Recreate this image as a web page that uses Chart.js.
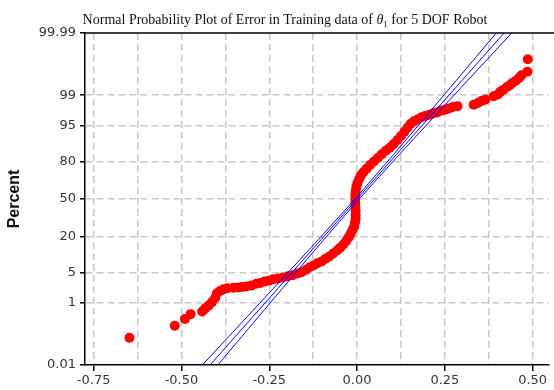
<!DOCTYPE html>
<html>
<head>
<meta charset="utf-8">
<script src="https://cdn.jsdelivr.net/npm/chart.js@4/dist/chart.umd.min.js"></script>
<style>
  html, body { margin: 0; padding: 0; background: #ffffff; }
  #wrap { width: 554px; height: 390px; }
</style>
</head>
<body>
<div id="wrap"><canvas id="chart" width="554" height="390"></canvas></div>
<script>
// Sorted training errors for theta_1 (horizontal axis)
const errorValues = [
  -0.648, -0.519, -0.490, -0.474, -0.441, -0.432, -0.423, -0.413, -0.404, -0.399,
  -0.390, -0.380, -0.369, -0.352, -0.338, -0.327, -0.315, -0.301, -0.287, -0.276,
  -0.263, -0.251, -0.239, -0.225, -0.211, -0.197, -0.183, -0.169, -0.158, -0.146,
  -0.135, -0.124, -0.113, -0.101, -0.090, -0.079, -0.068, -0.056, -0.048, -0.039,
  -0.031, -0.024, -0.018, -0.013, -0.008, -0.006, -0.004, -0.004, -0.004, -0.005,
  -0.005, -0.005, -0.005, -0.004, -0.002, 0.001, 0.006, 0.011, 0.018, 0.027,
  0.037, 0.048, 0.059, 0.070, 0.082, 0.093, 0.104, 0.115, 0.125, 0.135,
  0.144, 0.152, 0.162, 0.172, 0.183, 0.194, 0.206, 0.217, 0.228, 0.239,
  0.251, 0.262, 0.273, 0.286, 0.332, 0.344, 0.355, 0.366, 0.389, 0.401,
  0.408, 0.417, 0.427, 0.435, 0.442, 0.452, 0.461, 0.468, 0.485, 0.486
];
// Standard normal quantile of each error's plotting position (vertical axis)
const normalQuantiles = [
  -3.11, -2.84, -2.69, -2.58, -2.52, -2.45, -2.39, -2.31, -2.22, -2.11,
  -2.06, -2.02, -2.00, -1.99, -1.98, -1.97, -1.96, -1.94, -1.90, -1.88,
  -1.85, -1.83, -1.80, -1.78, -1.76, -1.73, -1.71, -1.67, -1.64, -1.59,
  -1.53, -1.49, -1.44, -1.40, -1.34, -1.29, -1.22, -1.15, -1.09, -1.02,
  -0.94, -0.86, -0.78, -0.69, -0.62, -0.53, -0.45, -0.36, -0.27, -0.18,
  -0.09, 0.00, 0.09, 0.18, 0.27, 0.36, 0.45, 0.53, 0.60, 0.68,
  0.76, 0.84, 0.92, 1.00, 1.08, 1.15, 1.23, 1.32, 1.41, 1.51,
  1.60, 1.68, 1.74, 1.78, 1.83, 1.86, 1.89, 1.92, 1.94, 1.98,
  2.00, 2.03, 2.06, 2.08, 2.11, 2.15, 2.20, 2.23, 2.30, 2.34,
  2.40, 2.45, 2.51, 2.55, 2.60, 2.65, 2.71, 2.77, 2.85, 3.13
];

// Fitted normal line with its lower and upper bounds
const bandQuantiles = [-3.9, -3.0, -2.0, -1.0, 0.0, 1.0, 2.0, 3.0, 3.9];
const fitValues   = [-0.4388, -0.3375, -0.2250, -0.1125, 0.0000, 0.1125, 0.2250, 0.3375, 0.4388];
const lowerValues = [-0.4618, -0.3556, -0.2379, -0.1208, -0.0060, 0.1042, 0.2121, 0.3194, 0.4158];
const upperValues = [-0.4158, -0.3194, -0.2121, -0.1042, 0.0060, 0.1208, 0.2379, 0.3556, 0.4618];

// Probability axis ticks (percent) and error axis ticks
const percentTicks = [0.01, 1, 5, 20, 50, 80, 95, 99, 99.99];
const percentLabels = ['0.01', '1', '5', '20', '50', '80', '95', '99', '99.99'];
const errorTicks = [-0.75, -0.625, -0.5, -0.375, -0.25, -0.125, 0, 0.125, 0.25, 0.375, 0.5];

// Inverse standard normal CDF (Acklam), used to place the probability axis
function probit(p) {
  const a = [-3.969683028665376e+01, 2.209460984245205e+02, -2.759285104469687e+02, 1.383577518672690e+02, -3.066479806614716e+01, 2.506628277459239e+00];
  const b = [-5.447609879822406e+01, 1.615858368580409e+02, -1.556989798598866e+02, 6.680131188771972e+01, -1.328068155288572e+01];
  const c = [-7.784894002430293e-03, -3.223964580411365e-01, -2.400758277161838e+00, -2.549732539343734e+00, 4.374664141464968e+00, 2.938163982698783e+00];
  const d = [7.784695709041462e-03, 3.224671290700398e-01, 2.445134137142996e+00, 3.754408661907416e+00];
  const pl = 0.02425;
  if (p < pl) {
    const q = Math.sqrt(-2 * Math.log(p));
    return (((((c[0]*q + c[1])*q + c[2])*q + c[3])*q + c[4])*q + c[5]) / ((((d[0]*q + d[1])*q + d[2])*q + d[3])*q + 1);
  }
  if (p > 1 - pl) {
    const q = Math.sqrt(-2 * Math.log(1 - p));
    return -(((((c[0]*q + c[1])*q + c[2])*q + c[3])*q + c[4])*q + c[5]) / ((((d[0]*q + d[1])*q + d[2])*q + d[3])*q + 1);
  }
  const q = p - 0.5, r = q * q;
  return (((((a[0]*r + a[1])*r + a[2])*r + a[3])*r + a[4])*r + a[5])*q / (((((b[0]*r + b[1])*r + b[2])*r + b[3])*r + b[4])*r + 1);
}

const tickZ = percentTicks.map(p => probit(p / 100));
const zMin = tickZ[0];
const zMax = tickZ[tickZ.length - 1];

const TICK_FONT = { family: '"DejaVu Sans", Verdana, sans-serif', size: 13 };
const TICK_COLOR = '#333340';
const GRID_COLOR = '#c8c8c8';
const GRID_DASH = [7, 4];

function pairs(xs, ys) { return xs.map((x, i) => ({ x: x, y: ys[i] })); }

function bandLine(values) {
  return {
    type: 'line',
    data: pairs(values, bandQuantiles),
    borderColor: '#0000ff',
    borderWidth: 1,
    pointRadius: 0,
    tension: 0.2,
    fill: false,
    order: 0
  };
}

// Title, axis caption and top frame line
const decorations = {
  id: 'decorations',
  afterDraw(chart) {
    const ctx = chart.ctx;
    const area = chart.chartArea;
    ctx.save();
    // top frame
    ctx.strokeStyle = '#000000';
    ctx.lineWidth = 1.5;
    ctx.beginPath();
    ctx.moveTo(area.left, area.top);
    ctx.lineTo(chart.width, area.top);
    ctx.stroke();

    // title with italic theta and subscript
    const serif = '"Liberation Serif", "Times New Roman", serif';
    const parts = [
      { t: 'Normal Probability Plot of Error in Training data of ', f: '14px ' + serif, dy: 0 },
      { t: '\u03B8', f: 'italic 14px ' + serif, dy: 0 },
      { t: '1', f: '9px ' + serif, dy: 3 },
      { t: ' for 5 DOF Robot', f: '14px ' + serif, dy: 0 }
    ];
    let total = 0;
    parts.forEach(p => { ctx.font = p.f; p.w = ctx.measureText(p.t).width; total += p.w; });
    let x = 285 - total / 2;
    ctx.fillStyle = '#111111';
    ctx.textBaseline = 'alphabetic';
    ctx.textAlign = 'left';
    parts.forEach(p => { ctx.font = p.f; ctx.fillText(p.t, x, 24 + p.dy); x += p.w; });

    // vertical axis caption
    ctx.translate(15, (area.top + area.bottom) / 2);
    ctx.rotate(-Math.PI / 2);
    ctx.font = 'bold 16px "Liberation Sans", Arial, sans-serif';
    ctx.fillStyle = '#111111';
    ctx.textAlign = 'center';
    ctx.textBaseline = 'middle';
    ctx.fillText('Percent', 0, 0);
    ctx.restore();
  }
};

new Chart(document.getElementById('chart'), {
  type: 'scatter',
  data: {
    datasets: [
      bandLine(lowerValues),
      bandLine(fitValues),
      bandLine(upperValues),
      {
        type: 'scatter',
        data: pairs(errorValues, normalQuantiles),
        backgroundColor: '#ff0000',
        borderWidth: 0,
        pointRadius: 5,
        pointHoverRadius: 5,
        order: 1
      }
    ]
  },
  options: {
    responsive: false,
    animation: false,
    events: [],
    layout: { padding: { top: 33, right: 0, left: 0, bottom: 0 } },
    plugins: { legend: { display: false }, tooltip: { enabled: false }, title: { display: false } },
    scales: {
      x: {
        type: 'linear',
        min: -0.7746,
        max: 0.5465,
        afterBuildTicks(scale) { scale.ticks = errorTicks.map(v => ({ value: v })); },
        afterFit(scale) { scale.height = 25; scale.paddingLeft = 0; scale.paddingRight = 0; },
        ticks: {
          autoSkip: false,
          maxRotation: 0,
          padding: 2,
          font: TICK_FONT,
          color: TICK_COLOR,
          callback(value) {
            return Math.abs(value / 0.25 - Math.round(value / 0.25)) < 1e-6 ? value.toFixed(2) : '';
          }
        },
        grid: {
          color: GRID_COLOR,
          lineWidth: 1.5,
          tickLength: 6,
          tickWidth: 1.5,
          tickColor(ctx) {
            const v = ctx.tick ? ctx.tick.value : 0;
            return Math.abs(v / 0.25 - Math.round(v / 0.25)) < 1e-6 ? '#000000' : 'rgba(0,0,0,0)';
          }
        },
        border: { display: true, color: '#000000', width: 1.5, dash: GRID_DASH }
      },
      y: {
        type: 'linear',
        min: zMin,
        max: zMax,
        afterBuildTicks(scale) { scale.ticks = tickZ.map(v => ({ value: v })); },
        afterFit(scale) { scale.width = 85; },
        ticks: {
          autoSkip: false,
          padding: 4,
          font: TICK_FONT,
          color: TICK_COLOR,
          callback(value, index) { return percentLabels[index]; }
        },
        grid: {
          color(ctx) {
            const i = ctx.index;
            return (i === 0 || i === tickZ.length - 1) ? 'rgba(0,0,0,0)' : GRID_COLOR;
          },
          lineWidth: 1.5,
          tickLength: 5,
          tickWidth: 1.5,
          tickColor: '#000000'
        },
        border: { display: true, color: '#000000', width: 1.5, dash: GRID_DASH }
      }
    }
  },
  plugins: [decorations]
});
</script>
</body>
</html>
